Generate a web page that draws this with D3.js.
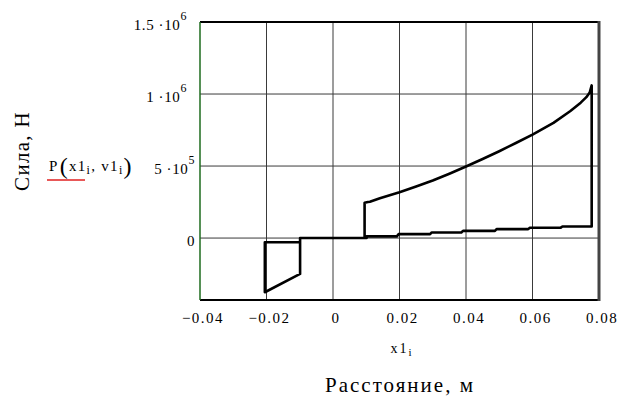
<!DOCTYPE html>
<html><head><meta charset="utf-8">
<script src="https://cdn.jsdelivr.net/npm/d3@7"></script>
<style>
html,body{margin:0;padding:0;background:#fff;}
text{font-family:"Liberation Serif","Times New Roman",serif;fill:#000;}
</style></head>
<body><svg id="c" width="621" height="401"></svg>
<script>
// ---- data ----
const xTicks = [-0.04, -0.02, 0, 0.02, 0.04, 0.06, 0.08];
const xTickLabels = ["\u22120.04", "\u22120.02", "0", "0.02", "0.04", "0.06", "0.08"];
const yTicks = [0, 5e5, 1e6, 1.5e6];
const yTickMantissa = ["0", "5 \u00b710", "1 \u00b710", "1.5 \u00b710"];
const yTickExponent = ["", "5", "6", "6"];
// loop path, in drawing order
const loopX = [0.0095, 0.0095, 0.0105, 0.0111, 0.0141, 0.020, 0.025, 0.030, 0.035, 0.040, 0.045, 0.050, 0.055, 0.060, 0.0663, 0.0713, 0.0745, 0.0762, 0.0772, 0.0778,
  0.0778, 0.069, 0.0685, 0.0592, 0.0587, 0.0492, 0.0487, 0.0391, 0.0386, 0.0297, 0.0292, 0.0197, 0.0192, 0.0101, 0.0101,
  -0.0099, -0.0099, -0.0205, -0.0205, -0.0099, -0.0099, 0.0095];
const loopY = [3e3, 2.45e5, 2.50e5, 2.52e5, 2.76e5, 3.18e5, 3.58e5, 4.0e5, 4.47e5, 4.97e5, 5.49e5, 6.03e5, 6.6e5, 7.18e5, 8.0e5, 8.8e5, 9.4e5, 9.78e5, 1.01e6, 1.06e6,
  8.0e4, 8.0e4, 7.2e4, 7.2e4, 6.2e4, 6.2e4, 5.0e4, 5.0e4, 3.9e4, 3.9e4, 2.7e4, 2.7e4, 1.2e4, 1.2e4, 0,
  0, -2.49e5, -3.76e5, -2.9e4, -2.9e4, 0, 0];
const xTitle = "x1";
const xTitleSub = "i";
const funcLabel = ["P", "(", "x1", "i", ", v1", "i", ")"];
const yTitle = "Сила, Н";
const xAxisTitle = "Расстояние, м";

// ---- scales ----
const L = 200, R = 599, T = 22, B = 300;
const x = d3.scaleLinear().domain([-0.04, 0.08]).range([L, R]);
const y = d3.scaleLinear().domain([-4.3e5, 1.5e6]).range([B, T]);
const svg = d3.select("#c");

// grid
const grid = svg.append("g");
grid.selectAll("line.vx").data(xTicks.slice(1, -1)).join("line")
  .attr("x1", d => x(d)).attr("x2", d => x(d)).attr("y1", T).attr("y2", B)
  .attr("stroke", "#3a3a3a").attr("stroke-width", 1);
grid.selectAll("line.hy").data(yTicks.slice(0, -1)).join("line")
  .attr("x1", L).attr("x2", R).attr("y1", d => y(d)).attr("y2", d => y(d))
  .attr("stroke", "#3a3a3a").attr("stroke-width", 1);

// frame
svg.append("line").attr("x1", L).attr("x2", R).attr("y1", T).attr("y2", T).attr("stroke", "#000").attr("stroke-width", 2);
svg.append("line").attr("x1", L).attr("x2", R).attr("y1", B).attr("y2", B).attr("stroke", "#000").attr("stroke-width", 2);
svg.append("line").attr("x1", L).attr("x2", L).attr("y1", T).attr("y2", B).attr("stroke", "#1e6b1e").attr("stroke-width", 1.5);
svg.append("line").attr("x1", R).attr("x2", R).attr("y1", T - 1).attr("y2", B + 1).attr("stroke", "#444").attr("stroke-width", 3);

// curve
const pts = loopX.map((v, i) => [v, loopY[i]]);
svg.append("path").datum(pts)
  .attr("d", d3.line().x(d => x(d[0])).y(d => y(d[1])))
  .attr("fill", "none").attr("stroke", "#000").attr("stroke-width", 2.6).attr("stroke-linejoin", "round");

// x tick labels
svg.append("g").selectAll("text").data(xTicks).join("text")
  .attr("x", d => x(d) + 3).attr("y", 323).attr("text-anchor", "middle")
  .attr("font-size", 15).attr("letter-spacing", 1.5)
  .text((d, i) => xTickLabels[i]);

// y tick labels
const yl = svg.append("g").selectAll("text").data(yTicks).join("text")
  .attr("x", (d, i) => i >= 2 ? 187 : 195).attr("y", d => y(d) + 8)
  .attr("text-anchor", "end").attr("font-size", 15).attr("letter-spacing", 0.6);
yl.append("tspan").text((d, i) => yTickMantissa[i]);
yl.append("tspan").attr("dy", -10).attr("font-size", 12).text((d, i) => yTickExponent[i]);

// x axis variable label
const xt = svg.append("text").attr("x", 402).attr("y", 353).attr("text-anchor", "middle").attr("font-size", 14).attr("letter-spacing", 2);
xt.append("tspan").text(xTitle);
xt.append("tspan").attr("dy", 3).attr("font-size", 11).text(xTitleSub);

// function label on y
const fl = svg.append("text").attr("x", 49).attr("y", 171).attr("font-size", 15).attr("letter-spacing", 1.3);
fl.append("tspan").text(funcLabel[0]);
fl.append("tspan").attr("font-size", 24).attr("dy", 3).attr("dx", 1).text(funcLabel[1]);
fl.append("tspan").attr("font-size", 15).attr("dy", -3).text(funcLabel[2]);
fl.append("tspan").attr("font-size", 12).attr("dy", 3).text(funcLabel[3]);
fl.append("tspan").attr("font-size", 15).attr("dy", -3).text(funcLabel[4]);
fl.append("tspan").attr("font-size", 12).attr("dy", 3).text(funcLabel[5]);
fl.append("tspan").attr("font-size", 24).attr("dy", 0).text(funcLabel[6]);
svg.append("line").attr("x1", 47).attr("x2", 85).attr("y1", 180).attr("y2", 180).attr("stroke", "#e02020").attr("stroke-width", 1.5);

// axis titles
svg.append("text").attr("transform", "translate(29,151) rotate(-90)").attr("text-anchor", "middle")
  .attr("font-size", 21).attr("letter-spacing", 1.3).text(yTitle);
svg.append("text").attr("x", 400).attr("y", 392).attr("text-anchor", "middle")
  .attr("font-size", 21).attr("letter-spacing", 2).text(xAxisTitle);
</script></body></html>
